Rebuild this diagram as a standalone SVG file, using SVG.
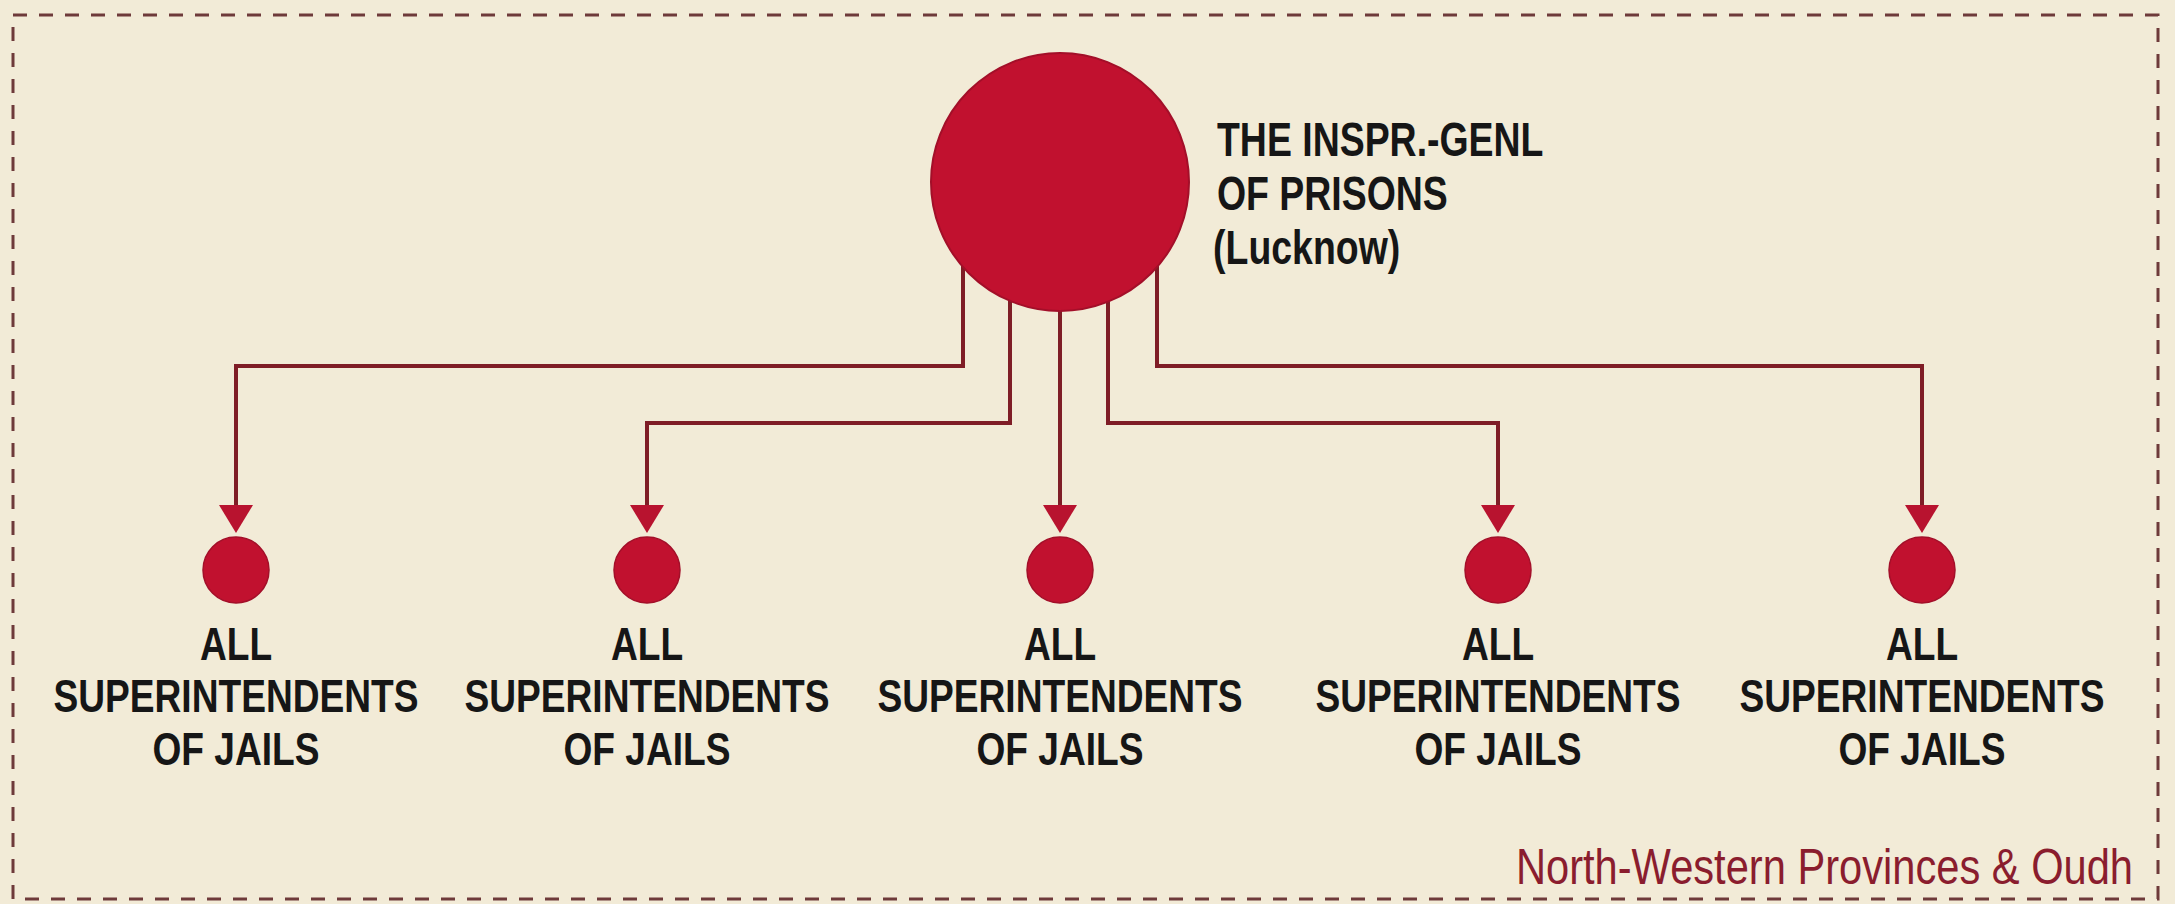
<svg xmlns="http://www.w3.org/2000/svg" width="2175" height="904" viewBox="0 0 2175 904">
  <style>
    .bg { fill: #f2ebd7; }
    .frame { fill: none; stroke: #6e3a3a; stroke-width: 3; stroke-dasharray: 14 12; }
    .conn { fill: none; stroke: #7f1d26; stroke-width: 4; stroke-linejoin: miter; marker-end: url(#arrow); }
    .big { fill: #c1112f; stroke: #a30f29; stroke-width: 2; }
    .small { fill: #c1112f; stroke: #a30f29; stroke-width: 1.5; }
    .lbl { font-family: "Liberation Sans", Arial, sans-serif; font-weight: bold; fill: #161616; }
    .title { font-size: 48px; }
    .sub { font-size: 47px; text-anchor: middle; }
    .foot { font-family: "Liberation Sans", Arial, sans-serif; font-size: 50px; fill: #8a1d2e; text-anchor: end; }
  </style>
  <defs>
    <marker id="arrow" viewBox="0 0 28 34" refX="22" refY="17" markerWidth="28" markerHeight="34" markerUnits="userSpaceOnUse" orient="auto">
      <path d="M0,0 L28,17 L0,34 Z" fill="#b8132f"/>
    </marker>
  </defs>

  <rect class="bg" x="0" y="0" width="2175" height="904"/>
  <rect class="frame" x="13" y="15" width="2145" height="884"/>

  <g id="connectors">
    <path class="conn" d="M963,250 V366 H236 V527"/>
    <path class="conn" d="M1010,290 V423 H647 V527"/>
    <path class="conn" d="M1060,300 V527"/>
    <path class="conn" d="M1108,290 V423 H1498 V527"/>
    <path class="conn" d="M1157,250 V366 H1922 V527"/>
  </g>

  <g id="node-inspector-general">
    <circle class="big" cx="1060" cy="182" r="129"/>
    <g transform="translate(1217,0) scale(0.78,1)">
      <text class="lbl title" x="0" y="156">THE INSPR.-GENL</text>
      <text class="lbl title" x="0" y="210">OF PRISONS</text>
      <text class="lbl title" x="-5" y="264">(Lucknow)</text>
    </g>
  </g>

  <g id="node-superintendents-1">
    <circle class="small" cx="236" cy="570" r="33"/>
    <g transform="translate(236,0) scale(0.79,1)">
      <text class="lbl sub" x="0" y="660">ALL</text>
      <text class="lbl sub" x="0" y="712">SUPERINTENDENTS</text>
      <text class="lbl sub" x="0" y="765">OF JAILS</text>
    </g>
  </g>

  <g id="node-superintendents-2">
    <circle class="small" cx="647" cy="570" r="33"/>
    <g transform="translate(647,0) scale(0.79,1)">
      <text class="lbl sub" x="0" y="660">ALL</text>
      <text class="lbl sub" x="0" y="712">SUPERINTENDENTS</text>
      <text class="lbl sub" x="0" y="765">OF JAILS</text>
    </g>
  </g>

  <g id="node-superintendents-3">
    <circle class="small" cx="1060" cy="570" r="33"/>
    <g transform="translate(1060,0) scale(0.79,1)">
      <text class="lbl sub" x="0" y="660">ALL</text>
      <text class="lbl sub" x="0" y="712">SUPERINTENDENTS</text>
      <text class="lbl sub" x="0" y="765">OF JAILS</text>
    </g>
  </g>

  <g id="node-superintendents-4">
    <circle class="small" cx="1498" cy="570" r="33"/>
    <g transform="translate(1498,0) scale(0.79,1)">
      <text class="lbl sub" x="0" y="660">ALL</text>
      <text class="lbl sub" x="0" y="712">SUPERINTENDENTS</text>
      <text class="lbl sub" x="0" y="765">OF JAILS</text>
    </g>
  </g>

  <g id="node-superintendents-5">
    <circle class="small" cx="1922" cy="570" r="33"/>
    <g transform="translate(1922,0) scale(0.79,1)">
      <text class="lbl sub" x="0" y="660">ALL</text>
      <text class="lbl sub" x="0" y="712">SUPERINTENDENTS</text>
      <text class="lbl sub" x="0" y="765">OF JAILS</text>
    </g>
  </g>

  <g id="caption">
    <g transform="translate(2133,0) scale(0.833,1)">
      <text class="foot" x="0" y="884">North-Western Provinces &amp; Oudh</text>
    </g>
  </g>
</svg>
